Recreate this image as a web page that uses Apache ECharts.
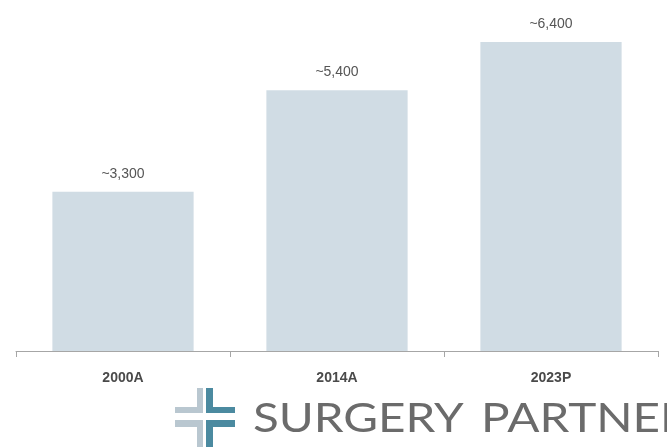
<!DOCTYPE html>
<html>
<head>
<meta charset="utf-8">
<style>
  html, body { margin: 0; padding: 0; background: #ffffff; }
  #chart { width: 667px; height: 447px; }
</style>
<script src="https://cdn.jsdelivr.net/npm/echarts@6/dist/echarts.min.js"></script>
</head>
<body>
<div id="chart"></div>
<script>
// Number of ambulatory surgery centers, actual and projected
const categories = ['2000A', '2014A', '2023P'];
const centerCounts = [3300, 5400, 6400];
const valueLabels = ['~3,300', '~5,400', '~6,400'];

const chart = echarts.init(document.getElementById('chart'), null, { renderer: 'canvas' });

// Wide, airy wordmark lettering
const wordmarkFont = 'normal 40px Lato, sans-serif';
const wordmarkStretch = 1.19;

const option = {
  animation: false,
  backgroundColor: '#ffffff',
  grid: { left: 16, right: 9, top: 13, bottom: 96 },
  xAxis: {
    type: 'category',
    data: categories,
    axisLine: { lineStyle: { color: '#a6a6a6', width: 1 } },
    axisTick: { show: true, length: 6, alignWithLabel: false, lineStyle: { color: '#a6a6a6' } },
    axisLabel: {
      margin: 20,
      color: '#4a4a4a',
      fontFamily: 'Liberation Sans Narrow, Liberation Sans, sans-serif',
      fontWeight: 'bold',
      fontSize: 14
    }
  },
  yAxis: {
    type: 'value',
    min: 0,
    max: 7000,
    show: false,
    splitLine: { show: false }
  },
  series: [{
    type: 'bar',
    data: centerCounts,
    barCategoryGap: '34%',
    itemStyle: { color: '#d0dce4' },
    label: {
      show: true,
      position: 'top',
      distance: 11,
      color: '#555555',
      fontFamily: 'Liberation Sans, sans-serif',
      fontSize: 14,
      formatter: (p) => valueLabels[p.dataIndex]
    }
  }],
  graphic: [
    // Company mark: four L-shaped quarters forming a cross
    { type: 'group', left: 175, top: 388, children: [
      { type: 'rect', shape: { x: 22, y: 0, width: 6, height: 25 }, style: { fill: '#b9c7d0' } },
      { type: 'rect', shape: { x: 0, y: 19, width: 28, height: 6 }, style: { fill: '#b9c7d0' } },
      { type: 'rect', shape: { x: 31, y: 0, width: 7, height: 25 }, style: { fill: '#4b8aa0' } },
      { type: 'rect', shape: { x: 31, y: 19, width: 29, height: 6 }, style: { fill: '#4b8aa0' } },
      { type: 'rect', shape: { x: 0, y: 32, width: 28, height: 7 }, style: { fill: '#b9c7d0' } },
      { type: 'rect', shape: { x: 22, y: 32, width: 6, height: 30 }, style: { fill: '#b9c7d0' } },
      { type: 'rect', shape: { x: 31, y: 32, width: 29, height: 7 }, style: { fill: '#4b8aa0' } },
      { type: 'rect', shape: { x: 31, y: 32, width: 7, height: 30 }, style: { fill: '#4b8aa0' } }
    ]},
    { type: 'text', x: 253, y: 399, scaleX: wordmarkStretch,
      style: { text: 'SURGERY', fill: '#6b6b6b', font: wordmarkFont }
    },
    { type: 'text', x: 481, y: 399, scaleX: wordmarkStretch,
      style: { text: 'PARTNERS', fill: '#6b6b6b', font: wordmarkFont }
    }
  ]
};

chart.setOption(option);
</script>
</body>
</html>
